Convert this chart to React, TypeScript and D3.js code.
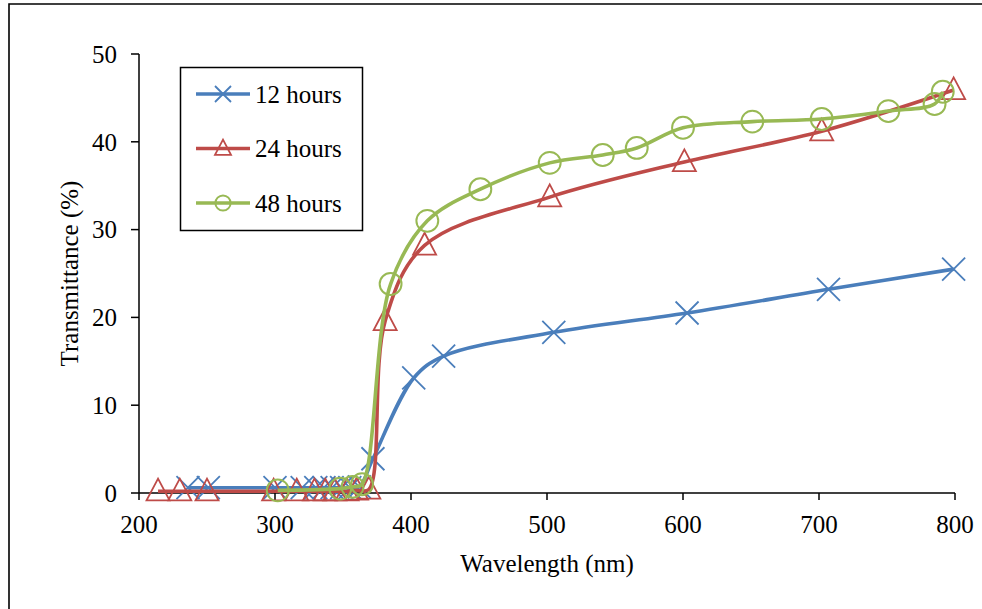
import React from "react";
import * as d3 from "d3";

// wavelength (nm) / transmittance (%)
const wl12 = [236, 251, 300, 320, 330, 336, 342, 349, 355, 362, 372, 402, 424, 505, 603, 707, 799];
const tr12 = [0.6, 0.6, 0.6, 0.6, 0.6, 0.6, 0.6, 0.6, 0.6, 0.7, 3.9, 13.1, 15.6, 18.3, 20.5, 23.2, 25.5];

const wl24 = [214, 230, 250, 299, 316, 329, 337, 344, 353, 360, 369, 381, 410, 502, 601, 702, 799];
const tr24 = [0.2, 0.2, 0.2, 0.2, 0.2, 0.2, 0.2, 0.2, 0.2, 0.3, 0.4, 19.6, 28.2, 33.7, 37.7, 41.2, 45.9];

const wl48 = [302, 348, 357, 364, 385, 412, 451, 502, 541, 566, 600, 651, 702, 751, 785, 791];
const tr48 = [0.3, 0.5, 0.7, 1.0, 23.8, 31.0, 34.6, 37.6, 38.5, 39.3, 41.6, 42.3, 42.6, 43.5, 44.3, 45.7];

const seriesNames = ["12 hours", "24 hours", "48 hours"];
const xTicks = [200, 300, 400, 500, 600, 700, 800];
const yTicks = [0, 10, 20, 30, 40, 50];

const colors = ["#4A7EBB", "#BE4B48", "#98B954"];
const font = "'Liberation Serif', 'Times New Roman', serif";

const Marker = ({ kind, x, y, s, color }) => {
  if (kind === 0) {
    return (
      <path
        d={`M${x - s},${y - s}L${x + s},${y + s}M${x - s},${y + s}L${x + s},${y - s}`}
        stroke={color}
        strokeWidth={1.8}
        fill="none"
      />
    );
  }
  if (kind === 1) {
    const h = s * 1.9;
    return (
      <path
        d={`M${x},${y - h * 0.58}L${x + s},${y + h * 0.42}L${x - s},${y + h * 0.42}Z`}
        stroke={color}
        strokeWidth={1.8}
        fill="none"
      />
    );
  }
  return <circle cx={x} cy={y} r={s * 0.95} stroke={color} strokeWidth={2} fill="none" />;
};

export default function App() {
  const width = 982;
  const height = 609;

  const x = d3.scaleLinear().domain([200, 800]).range([139, 955]);
  const y = d3.scaleLinear().domain([0, 50]).range([493, 54]);

  const series = [
    wl12.map((w, i) => [w, tr12[i]]),
    wl24.map((w, i) => [w, tr24[i]]),
    wl48.map((w, i) => [w, tr48[i]]),
  ];

  const line = d3
    .line()
    .x((d) => x(d[0]))
    .y((d) => y(d[1]))
    .curve(d3.curveCatmullRom.alpha(0.5));

  return (
    <div>
      <style>{"body{margin:0}"}</style>
      <svg width={width} height={height} style={{ display: "block" }} fontFamily={font}>
        <rect x={0} y={0} width={width} height={height} fill="#fff" />
        {/* chart frame, only top and left sides inside the picture */}
        <path d={`M9,${height}V4H${width}`} stroke="#000" strokeWidth={1.6} fill="none" />

        {/* axes */}
        <line x1={x(200)} x2={x(800)} y1={y(0)} y2={y(0)} stroke="#000" strokeWidth={1.5} />
        <line x1={x(200)} x2={x(200)} y1={y(50)} y2={y(0)} stroke="#000" strokeWidth={1.5} />
        {xTicks.map((t) => (
          <g key={"xt" + t}>
            <line x1={x(t)} x2={x(t)} y1={y(0)} y2={y(0) + 7} stroke="#000" strokeWidth={1.5} />
            <text x={x(t)} y={533} textAnchor="middle" fontSize={25}>
              {t}
            </text>
          </g>
        ))}
        {yTicks.map((t) => (
          <g key={"yt" + t}>
            <line x1={x(200) - 8} x2={x(200)} y1={y(t)} y2={y(t)} stroke="#000" strokeWidth={1.5} />
            <text x={117} y={y(t)} dy="0.35em" textAnchor="end" fontSize={25}>
              {t}
            </text>
          </g>
        ))}
        <text x={(x(200) + x(800)) / 2} y={572} textAnchor="middle" fontSize={25}>
          Wavelength (nm)
        </text>
        <text
          transform={`translate(78,${(y(0) + y(50)) / 2}) rotate(-90)`}
          textAnchor="middle"
          fontSize={25}
        >
          Transmittance (%)
        </text>

        {/* series */}
        {series.map((data, k) => (
          <g key={"s" + k}>
            <path d={line(data)} stroke={colors[k]} strokeWidth={3.6} fill="none" strokeLinejoin="round" />
            {data.map((d, i) => (
              <Marker key={i} kind={k} x={x(d[0])} y={y(d[1])} s={11.5} color={colors[k]} />
            ))}
          </g>
        ))}

        {/* legend */}
        <rect x={180.5} y={67.5} width={182} height={163} fill="#fff" stroke="#000" strokeWidth={1.5} />
        {seriesNames.map((name, k) => {
          const ly = 94 + k * 54.5;
          return (
            <g key={"lg" + k}>
              <line x1={196} x2={250} y1={ly} y2={ly} stroke={colors[k]} strokeWidth={3.6} />
              <Marker kind={k} x={223} y={ly} s={8} color={colors[k]} />
              <text x={255} y={ly} dy="0.35em" fontSize={25}>
                {name}
              </text>
            </g>
          );
        })}
      </svg>
    </div>
  );
}
